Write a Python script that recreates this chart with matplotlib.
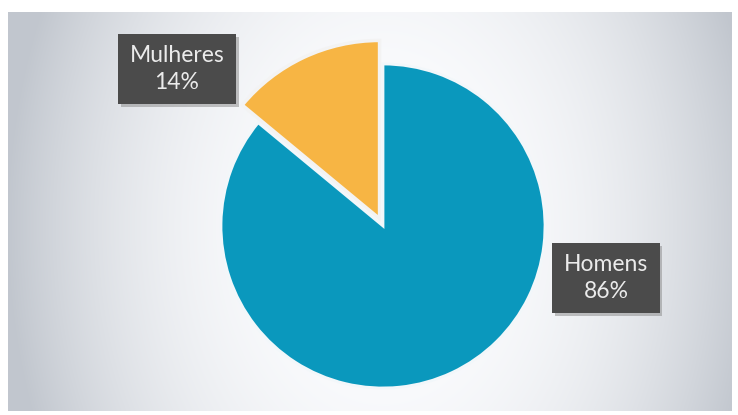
import matplotlib
matplotlib.use("Agg")
import matplotlib.pyplot as plt
import matplotlib.patheffects as pe
import numpy as np

# share of respondents by sex
categories = ["Homens", "Mulheres"]
shares = [86, 14]
colors = ["#0a98bd", "#f7b544"]

W, H = 738, 415
CX, CY, R = 383, 226, 162  # pie centre / radius in pixels


def px(x, y):
    """pixel position -> pie data coords (1 unit = pie radius)"""
    return (x - CX) / R, (CY - y) / R


fig = plt.figure(figsize=(W / 100, H / 100), dpi=100)
fig.patch.set_facecolor("white")

# soft backdrop, darker towards the side edges
bg = fig.add_axes([8 / W, 4 / H, 724 / W, 399 / H])
yy, xx = np.mgrid[12:411, 8:732]
t = np.sqrt(((xx - CX) / 375.0) ** 2 + ((yy - CY) / 520.0) ** 2)
t = np.clip(t, 0, 1) ** 2.4
inner = np.array([0.99, 0.993, 1.0])
outer = np.array([0.76, 0.78, 0.81])
img = inner[None, None, :] * (1 - t[..., None]) + outer[None, None, :] * t[..., None]
bg.imshow(img, aspect="auto", interpolation="bilinear")
bg.axis("off")

ax = fig.add_axes([0, 0, 1, 1])
ax.patch.set_alpha(0)
wedges, _ = ax.pie(shares, colors=colors, startangle=90, counterclock=False,
                   explode=[0, 0.05],
                   wedgeprops=dict(linewidth=2, edgecolor="#f2f7fa"))
wedges[1].set_radius(1.1)
wedges[1].set_linewidth(2.5)
wedges[1].set_edgecolor("#f3f3f3")
ax.set_xlim(-CX / R, (W - CX) / R)
ax.set_ylim(-(H - CY) / R, CY / R)

# dark callout boxes
label_pos = {"Homens": (606, 278), "Mulheres": (177, 69)}
for name, val in zip(categories, shares):
    x, y = px(*label_pos[name])
    txt = ax.text(x, y, f"{name}\n{val}%", ha="center", va="center",
                  multialignment="center", color="#ebebeb", fontsize=16.5,
                  family=["Lato", "DejaVu Sans"], linespacing=1.3,
                  bbox=dict(boxstyle="square,pad=0.5", fc="#4b4b4b", ec="none"))
    txt.get_bbox_patch().set_path_effects(
        [pe.withSimplePatchShadow(offset=(2, -2), shadow_rgbFace="#888888", alpha=0.5)])

fig.savefig("out.png", dpi=100)
